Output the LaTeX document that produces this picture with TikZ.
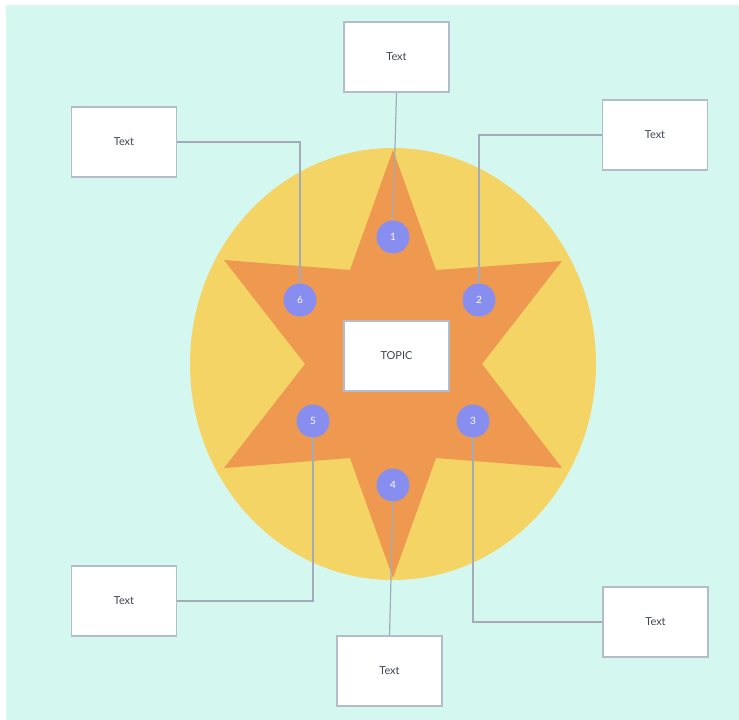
\documentclass[tikz,border=0pt]{standalone}
\usepackage{fontspec}
\setmainfont{Lato}
\definecolor{mint}{HTML}{D4F8EF}
\definecolor{sunyellow}{HTML}{F5D466}
\definecolor{starorange}{HTML}{EE994F}
\definecolor{dotblue}{HTML}{878EF0}
\definecolor{boxborder}{HTML}{B3BCCB}
\definecolor{wire}{HTML}{A3ABB8}
\definecolor{txt}{HTML}{3F4552}
\begin{document}
\begin{tikzpicture}[x=1pt,y=-1pt,
  textbox/.style={draw=boxborder,line width=1.3pt,fill=white,minimum width=105pt,minimum height=70pt,inner sep=0pt,font=\fontsize{11}{13}\selectfont,text=txt},
  dot/.style={circle,fill=dotblue,minimum size=33pt,inner sep=0pt,text=white,font=\fontsize{10}{12}\selectfont},
  wireline/.style={draw=wire,line width=1.2pt}]
\useasboundingbox (0,0) rectangle (739,720);
\fill[mint] (6,5) rectangle (739,720);
\fill[sunyellow] (393,364) ellipse [x radius=203, y radius=216];
\fill[starorange] (393,150) -- (436,270) -- (562,261) -- (482,364) -- (562,468) -- (436,458) -- (393,578) -- (350,458) -- (224,468) -- (305,364) -- (224,260) -- (350,270) -- cycle;
% boxes
\node[textbox] (topic) at (396.5,356) {TOPIC};
\node[textbox] (t1) at (396.5,57) {Text};
\node[textbox] (t6) at (124,142) {Text};
\node[textbox] (t2) at (655,135) {Text};
\node[textbox] (t5) at (124,601) {Text};
\node[textbox] (t3) at (655.5,622) {Text};
\node[textbox] (t4) at (389.5,671) {Text};
% connectors
\coordinate (c2) at (479,135);
\coordinate (c3) at (473,622);
\coordinate (c5) at (313,601);
\coordinate (c6) at (300,142);
\node[dot] (d1) at (393,237) {1};
\node[dot] (d2) at (479,300) {2};
\node[dot] (d3) at (473,421) {3};
\node[dot] (d4) at (393,485) {4};
\node[dot] (d5) at (313,421) {5};
\node[dot] (d6) at (300,300) {6};
\draw[wireline] (d1.north) -- (t1.south);
\draw[wireline] (d2.north) -- (c2) -- (t2.west);
\draw[wireline] (d3.south) -- (c3) -- (t3.west);
\draw[wireline] (d4.south) -- (t4.north);
\draw[wireline] (d5.south) -- (c5) -- (t5.east);
\draw[wireline] (d6.north) -- (c6) -- (t6.east);
\end{tikzpicture}
\end{document}
